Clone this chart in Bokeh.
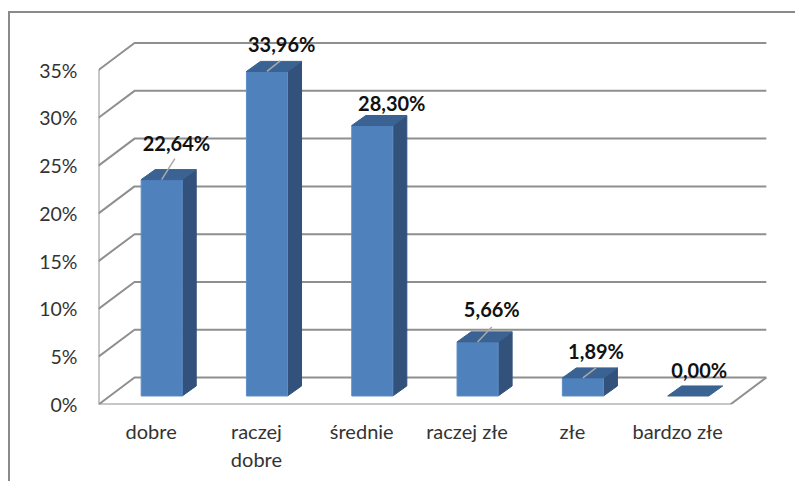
from bokeh.plotting import figure
from bokeh.models import ColumnDataSource, FixedTicker, Range1d, InlineStyleSheet
from bokeh.core.properties import value
from bokeh.embed import file_html
from bokeh.resources import INLINE

categories = ["dobre", "raczej\ndobre", "średnie", "raczej złe", "złe", "bardzo złe"]
values = [22.64, 33.96, 28.30, 5.66, 1.89, 0.00]
value_labels = ["22,64%", "33,96%", "28,30%", "5,66%", "1,89%", "0,00%"]
y_ticks = [0, 5, 10, 15, 20, 25, 30, 35]

# oblique projection, in axis units (one category slot wide; one percent high)
depth_x, depth_y = 0.342, 2.82
bar_half = 0.195
bar_dx, bar_dy = 0.133, 1.05
off_x, off_y = 0.10, 0.89
label_dx = [0.14, 0.14, 0.185, 0.135, 0.125, 0.105]
label_dy = [3.8, 2.85, 2.4, 3.4, 2.85, 2.75]
lead_dx = [0.125, 0.125, 0, 0.135, 0.125, 0]
lead_dy = [2.2, 1.1, 0, 1.55, 1.05, 0]

GRID = "#8f8f8f"
FONT = "Lato"
n = len(categories)
x_end = 677 / 105.3
y_end = 374 / 9.557

frame_css = InlineStyleSheet(css="""
:host::before {
  content: ""; position: absolute; left: 8px; top: 11px; width: 787px; height: 470px;
  box-sizing: border-box; border-left: 2px solid #8a8a8a; border-top: 2px solid #8a8a8a;
  pointer-events: none; z-index: 10;
}
""")

p = figure(width=795, height=481, output_backend="svg", toolbar_location=None,
           x_range=Range1d(0, x_end), y_range=Range1d(0, y_end),
           min_border_left=98, min_border_right=20, min_border_top=30, min_border_bottom=77,
           stylesheets=[frame_css])
p.outline_line_color = None
p.grid.visible = False

# walls and gridlines
gx, gy = [], []
for t in y_ticks:
    gx.append([0, depth_x, n + depth_x])
    gy.append([t, t + depth_y, t + depth_y])
p.multi_line(gx, gy, line_color=GRID, line_width=2)
p.line([0, 0, n, n + depth_x], [max(y_ticks), 0, 0, depth_y], line_color=GRID, line_width=2)

# bars
for i, v in enumerate(values):
    c = i + 0.5 + off_x
    l, r, b, t = c - bar_half, c + bar_half, off_y, v + off_y
    if v > 0:
        p.patch([r, r + bar_dx, r + bar_dx, r], [b, b + bar_dy, t + bar_dy, t], fill_color="#32527b", line_color="#32527b", line_width=1)
        p.quad(left=l, right=r, bottom=b, top=t, fill_color="#4f81bd", line_color="#5d8dc8", line_width=1)
    p.patch([l, r, r + bar_dx, l + bar_dx], [t, t, t + bar_dy, t + bar_dy], fill_color="#3a6292", line_color="#3a6292", line_width=1)

# leader lines
for i, v in enumerate(values):
    if lead_dx[i]:
        c = i + 0.5 + off_x
        p.line([c, c + lead_dx[i]], [v + off_y, v + off_y + lead_dy[i]], line_color="#a9a9a9", line_width=1.5)

src = ColumnDataSource(dict(
    x=[i + 0.5 + off_x + label_dx[i] for i in range(n)],
    y=[values[i] + off_y + label_dy[i] for i in range(n)],
    t=value_labels))
p.text("x", "y", text="t", source=src, text_align="center", text_baseline="middle",
       text_font=value(FONT), text_font_size="20px", text_font_style="bold", text_color="#111111")

# axes
p.xaxis.ticker = FixedTicker(ticks=[i + 0.5 for i in range(n)])
p.xaxis.major_label_overrides = {i + 0.5: c for i, c in enumerate(categories)}
p.yaxis.ticker = FixedTicker(ticks=y_ticks)
p.yaxis.major_label_overrides = {t: f"{t}%" for t in y_ticks}
for ax in (p.xaxis, p.yaxis):
    ax.axis_line_color = None
    ax.major_tick_line_color = None
    ax.minor_tick_line_color = None
    ax.major_label_text_font = FONT
    ax.major_label_text_font_size = "19.5px"
    ax.major_label_text_color = "#333333"
p.xaxis.major_label_text_font_size = "20px"
p.yaxis.major_label_standoff = 15
p.xaxis.major_label_standoff = 8

open("out.html", "w").write(file_html(p, INLINE))
